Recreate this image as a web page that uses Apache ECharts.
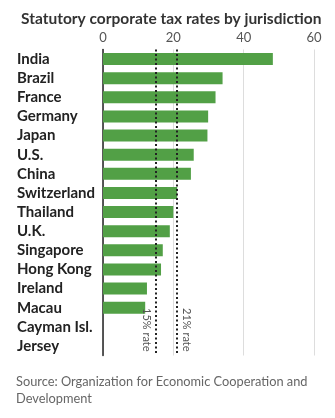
<!DOCTYPE html>
<html><head><meta charset="utf-8">
<script src="https://cdn.jsdelivr.net/npm/echarts@6/dist/echarts.min.js"></script>
<style>html,body{margin:0;padding:0;background:#fff}#c{width:335px;height:418px}</style>
</head><body><div id="c"></div>
<script>
const titleText = 'Statutory corporate tax rates by jurisdiction';
const sourceText = 'Source: Organization for Economic Cooperation and\nDevelopment';
const categories = ['India','Brazil','France','Germany','Japan','U.S.','China','Switzerland','Thailand','U.K.','Singapore','Hong Kong','Ireland','Macau','Cayman Isl.','Jersey'];
const rates = [48.3, 34, 32, 29.9, 29.7, 25.8, 25, 21.1, 20, 19, 17, 16.5, 12.5, 12, 0, 0];
const refValues = [15, 21];
const refLabels = ['15% rate', '21% rate'];
const xTicks = [0, 20, 40, 60];

const chart = echarts.init(document.getElementById('c'), null, {renderer: 'canvas'});
const font = 'Lato, "Noto Sans", sans-serif';
chart.setOption({
  animation: false,
  title: {
    text: titleText, left: 16, top: 6,
    textStyle: {fontFamily: font, fontSize: 15.5, fontWeight: 'bold', color: '#333'}
  },
  graphic: [{
    type: 'text', left: 16, top: 373,
    style: {text: sourceText, fontFamily: font, fontSize: 12.8, lineHeight: 17, fill: '#666'}
  }],
  grid: {left: 103, right: 21, top: 49.5, bottom: 62.5, containLabel: false},
  xAxis: {
    type: 'value', position: 'top', min: xTicks[0], max: xTicks[xTicks.length-1], interval: 20,
    axisLine: {show: false}, axisTick: {show: false},
    axisLabel: {fontFamily: font, fontSize: 13, color: '#555', margin: 5},
    splitLine: {lineStyle: {color: '#ddd', width: 1}}
  },
  yAxis: {
    type: 'category', data: categories, inverse: true,
    axisLine: {show: true, lineStyle: {color: '#222', width: 1.5}},
    axisTick: {show: false},
    axisLabel: {interval: 0, fontFamily: font, fontSize: 15, fontWeight: 'bold', color: '#222', align: 'left', margin: 86}
  },
  series: [{
    type: 'bar', data: rates, barWidth: 12,
    itemStyle: {color: '#52a046'},
    markLine: {
      silent: true, symbol: 'none',
      lineStyle: {color: '#222', width: 2, type: [2, 2.5]},
      data: refValues.map((v, i) => ({
        xAxis: v,
        label: {
          show: true, formatter: refLabels[i],
          position: i === 0 ? 'insideEndBottom' : 'insideEndTop',
          fontFamily: font, fontSize: 11, color: '#555', distance: 4
        }
      }))
    }
  }]
});
</script></body></html>
